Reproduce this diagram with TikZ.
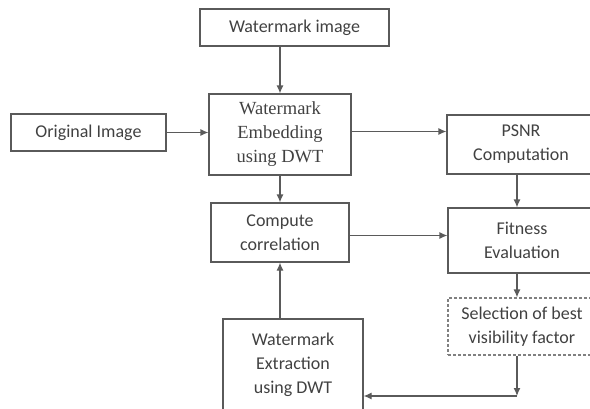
\documentclass[tikz,border=0pt]{standalone}
\usepackage{xcolor}
\usepackage{tikz}
\usepackage{fontspec}
\setmainfont{Carlito}
\newfontfamily\serifface{Liberation Serif}
\usetikzlibrary{arrows.meta}
\definecolor{linegray}{RGB}{90, 90, 90}
\definecolor{textgray}{RGB}{65, 65, 65}

\begin{document}
\begin{tikzpicture}[x=1pt, y=-1pt,
    box/.style={rectangle, draw=linegray, line width=1.2pt, align=center, text=textgray,
        inner sep=0pt, font=\fontsize{18}{24}\selectfont},
    serifbox/.style={box, font=\serifface\fontsize{18.5}{24}\selectfont},
    cutbox/.style={box, minimum width=166pt},
    edge/.style={line width=1.2pt, linegray, -{Latex[length=8pt, width=7pt]}}
]
\useasboundingbox (0,0) rectangle (590,408);

\node[box, minimum width=189pt, minimum height=37pt] (wmimg) at (294.5,27.5) {Watermark image};
\node[box, minimum width=155pt, minimum height=37pt] (orig) at (88.5,132.5) {Original Image};
\node[serifbox, minimum width=142pt, minimum height=81pt] (embed) at (280,134.5) {Watermark\\Embedding\\using DWT};
\node[cutbox, minimum height=59pt] (psnr) at (530,144.5) {PSNR\hspace*{18pt}\\Computation\hspace*{18pt}};
\node[box, minimum width=138pt, minimum height=59pt] (corr) at (280,232.5) {Compute\\correlation};
\node[cutbox, minimum height=65pt] (fit) at (531,240.5) {Fitness\hspace*{18pt}\\Evaluation\hspace*{18pt}};
\node[cutbox, draw=gray, densely dashed, minimum height=57pt] (sel) at (531,326.5) {Selection of best\hspace*{18pt}\\visibility factor\hspace*{18pt}};
\node[box, minimum width=140pt, minimum height=91pt] (ext) at (293,364.5) {Watermark\\Extraction\\using DWT};
\coordinate (turn) at (517,396);

\draw[edge] (wmimg.south -| embed.north) -- (embed.north);
\draw[edge] (orig.east) -- (orig.east -| embed.west);
\draw[edge] ([yshift=3pt]embed.east) -- ([yshift=3pt]embed.east -| psnr.west);
\draw[edge] (embed.south) -- (corr.north);
\draw[edge] (psnr.south -| turn) -- (fit.north -| turn);
\draw[edge] ([yshift=-3pt]corr.east) -- ([yshift=-3pt]corr.east -| fit.west);
\draw[edge] (fit.south -| turn) -- (sel.north -| turn);
\draw[edge] (sel.south -| turn) -- (turn);
\draw[edge] (turn) -- (turn -| ext.east);
\draw[edge] (ext.north -| corr.south) -- (corr.south);
\end{tikzpicture}
\end{document}
